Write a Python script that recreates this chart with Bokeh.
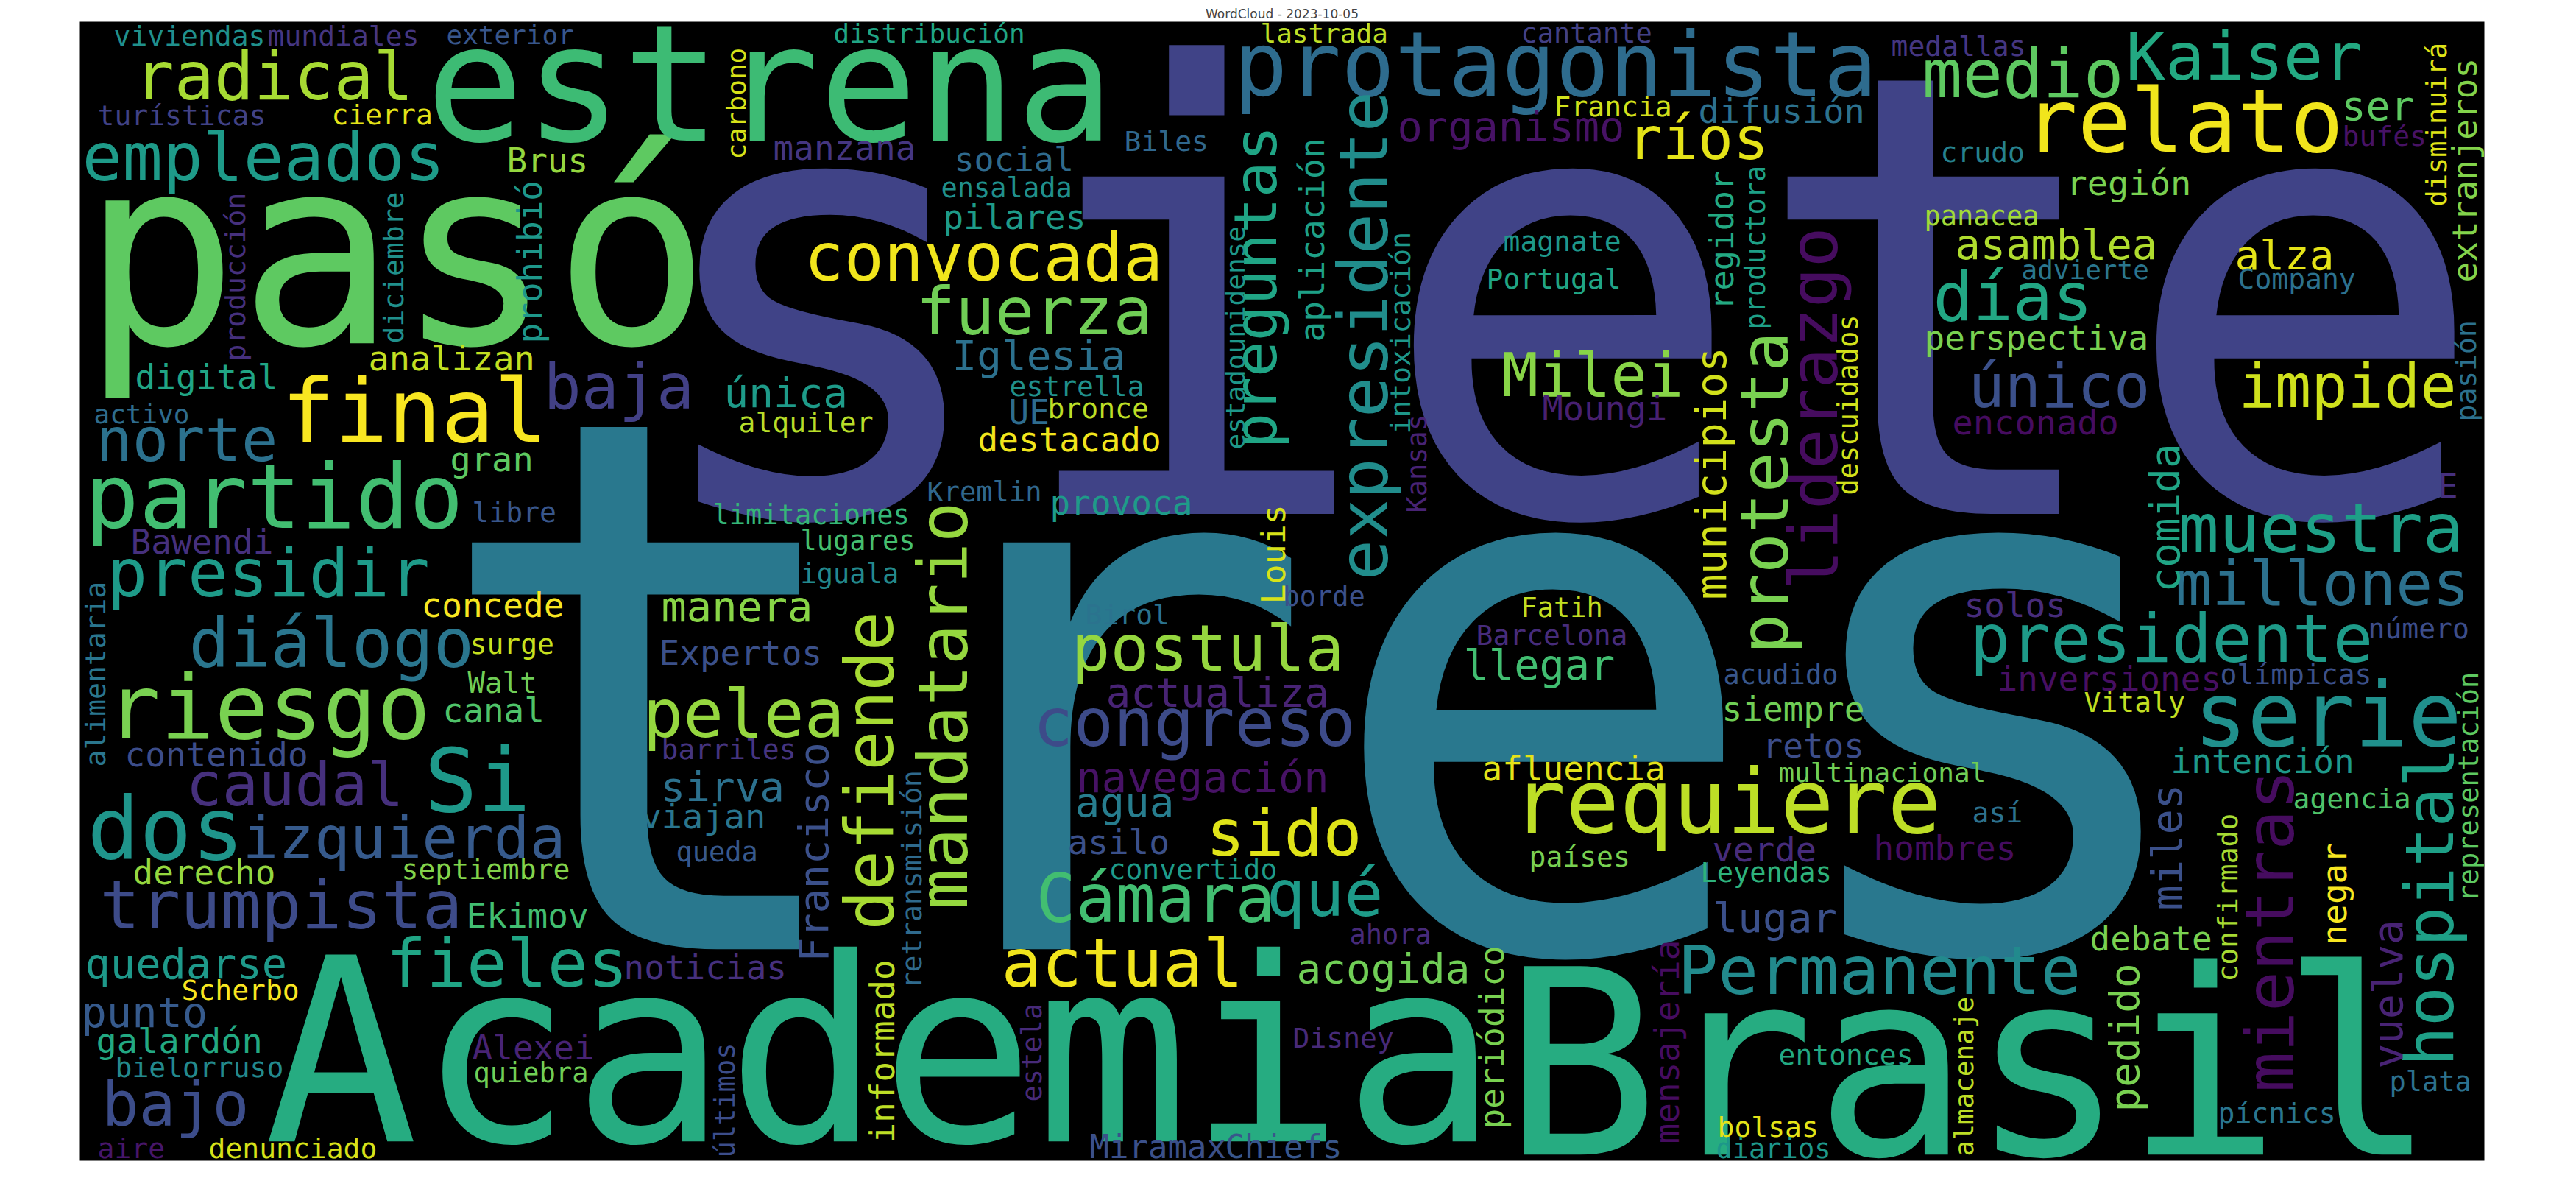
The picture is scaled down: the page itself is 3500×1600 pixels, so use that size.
import math
from bokeh.plotting import figure
from bokeh.models import ColumnDataSource, Range1d
from bokeh.palettes import Viridis256
from bokeh.core.properties import value
from bokeh.embed import file_html
from bokeh.resources import INLINE

# words laid out horizontally: font size (px), left edge, baseline, viridis index
h_words = ["siete", "tres", "Academia", "Brasil", "pasó", "estrena", "protagonista", "relato", "requiere", "partido",
           "riesgo", "serie", "final", "Si", "dos", "convocada", "fuerza", "empleados", "radical", "medio",
           "Kaiser", "días", "presidir", "diálogo", "trumpista", "fieles", "muestra", "presidente", "Permanente", "Cámara",
           "actual", "congreso", "postula", "pelea", "sido", "qué", "Milei", "norte", "baja", "único",
           "impide", "izquierda", "caudal", "bajo", "millones", "ríos", "organismo", "asamblea", "única", "Iglesia",
           "manera", "llegar", "actualiza", "navegación", "sirva", "agua", "lugar", "acogida", "quedarse", "punto",
           "alza", "ser", "Brus", "analizan", "digital", "manzana", "social", "pilares", "difusión", "región",
           "perspectiva", "gran", "Bawendi", "concede", "canal", "contenido", "UE", "destacado", "provoca", "Expertos",
           "asilo", "viajan", "noticias", "Moungi", "siempre", "retos", "afluencia", "enconado", "solos", "inversiones",
           "intención", "debate", "hombres", "verde", "derecho", "Ekimov", "galardón", "Alexei", "Miramax", "Chiefs", "E",
           "viviendas", "mundiales", "exterior", "turísticas", "cierra", "distribución", "Biles", "ensalada", "lastrada", "cantante",
           "Francia", "magnate", "Portugal", "medallas", "bufés", "crudo", "panacea", "advierte", "Company", "activo",
           "libre", "surge", "Walt", "alquiler", "bronce", "estrella", "Kremlin", "limitaciones", "lugares", "iguala",
           "Birol", "barriles", "queda", "convertido", "borde", "Fatih", "Barcelona", "acudido", "multinacional", "número",
           "olímpicas", "Vitaly", "agencia", "así", "plata", "pícnics", "países", "Leyendas", "ahora", "Disney",
           "entonces", "bolsas", "diarios", "septiembre", "Scherbo", "bielorruso", "quiebra", "aire", "denunciado"]
h_size = [838, 1010, 348, 351, 355, 222, 121, 120, 121, 122,
          122, 121, 120, 120, 118, 90, 89, 91, 90, 91,
          89, 90, 91, 92, 91, 91, 92, 91, 91, 90,
          91, 91, 88, 91, 88, 88, 82, 82, 85, 82,
          82, 81, 82, 83, 83, 80, 57, 57, 56, 56,
          57, 57, 56, 57, 56, 56, 56, 56, 57, 57,
          56, 55, 46, 47, 46, 46, 45, 46, 47, 47,
          46, 47, 46, 46, 46, 46, 46, 46, 46, 46,
          46, 47, 46, 47, 46, 46, 46, 47, 46, 46,
          46, 46, 46, 47, 46, 46, 47, 46, 44, 44, 45,
          38, 38, 36, 38, 38, 36, 38, 37, 36, 37,
          38, 38, 38, 38, 38, 38, 37, 36, 38, 36,
          38, 38, 39, 38, 38, 38, 37, 37, 37, 37,
          38, 38, 37, 38, 37, 37, 38, 37, 36, 38,
          38, 38, 38, 38, 37, 38, 38, 37, 37, 38,
          38, 38, 37, 38, 38, 38, 37, 38, 38]
h_x = [869, 584, 366, 2050, 118, 586, 1684, 2758, 2062, 123,
       152, 2988, 390, 584, 126, 1100, 1252, 119, 190, 2619,
       2896, 2634, 153, 264, 143, 532, 2967, 2684, 2287, 1415,
       1368, 1411, 1463, 881, 1646, 1728, 2048, 138, 746, 2682,
       3049, 337, 260, 146, 2963, 2218, 1906, 2664, 991, 1301,
       906, 1996, 1510, 1470, 905, 1468, 2335, 1769, 123, 118,
       3044, 3189, 696, 508, 191, 1058, 1304, 1289, 2315, 2815,
       2622, 619, 185, 580, 609, 177, 1378, 1336, 1434, 903,
       1458, 878, 855, 2103, 2347, 2402, 2021, 2660, 2676, 2721,
       2957, 2847, 2553, 2334, 188, 641, 138, 649, 1488, 1672, 3320,
       162, 371, 614, 140, 458, 1140, 1535, 1286, 1720, 2074,
       2119, 2050, 2027, 2577, 3190, 2644, 2622, 2754, 3048, 135,
       649, 646, 643, 1011, 1431, 1379, 1267, 976, 1095, 1095,
       1482, 906, 926, 1514, 1751, 2074, 2013, 2349, 2424, 3225,
       3024, 2839, 3123, 2687, 3254, 3021, 2085, 2318, 1841, 1764,
       2424, 2341, 2339, 553, 254, 164, 651, 140, 291]
h_y = [692, 1280, 1552, 1570, 468, 195, 136, 212, 1137, 723,
       1009, 1019, 606, 1108, 1172, 387, 460, 251, 141, 138,
       114, 441, 816, 912, 1267, 1346, 756, 905, 1356, 1258,
       1346, 1019, 917, 1007, 1168, 1250, 544, 632, 561, 559,
       559, 1172, 1100, 1535, 828, 222, 198, 358, 559, 508,
       850, 929, 966, 1082, 1094, 1115, 1272, 1341, 1335, 1401,
       372, 170, 241, 510, 535, 224, 239, 318, 174, 272,
       482, 647, 759, 845, 988, 1048, 583, 620, 706, 910,
       1167, 1132, 1337, 578, 986, 1036, 1067, 597, 845, 945,
       1057, 1298, 1175, 1177, 1208, 1267, 1437, 1446, 1580, 1580, 683,
       69, 69, 67, 177, 176, 65, 212, 275, 65, 65,
       165, 348, 399, 83, 205, 227, 313, 386, 399, 582,
       716, 895, 948, 594, 575, 545, 688, 719, 754, 799,
       855, 1038, 1177, 1201, 830, 845, 883, 936, 1069, 874,
       936, 974, 1105, 1124, 1489, 1532, 1184, 1205, 1289, 1430,
       1453, 1551, 1580, 1201, 1365, 1470, 1477, 1580, 1580]
h_color = [51, 102, 158, 158, 192, 175, 90, 250, 230, 178,
           204, 128, 253, 138, 133, 250, 200, 140, 222, 192,
           155, 153, 140, 100, 58, 150, 145, 140, 122, 178,
           250, 58, 215, 215, 243, 140, 210, 95, 48, 62,
           237, 72, 35, 60, 95, 245, 12, 225, 140, 95,
           210, 178, 25, 12, 95, 108, 62, 200, 138, 72,
           245, 192, 215, 232, 150, 40, 88, 140, 95, 204,
           204, 192, 35, 253, 185, 60, 90, 250, 140, 62,
           62, 100, 35, 22, 200, 60, 245, 8, 32, 10,
           138, 204, 8, 32, 215, 178, 155, 25, 62, 68, 35,
           128, 40, 68, 50, 245, 150, 85, 128, 230, 48,
           238, 135, 150, 40, 12, 112, 220, 100, 95, 90,
           68, 234, 200, 228, 230, 128, 85, 170, 180, 120,
           97, 38, 70, 140, 62, 232, 32, 68, 200, 60,
           62, 232, 185, 95, 95, 100, 204, 165, 30, 30,
           155, 245, 135, 208, 253, 120, 200, 15, 240]

# words rotated 90 degrees: font size, baseline x, start (bottom) y, viridis index
v_words = ["producción", "diciembre", "prohibió", "carbono", "preguntas", "estadounidense", "expresidente", "aplicación", "intoxicación", "regidor",
           "productora", "liderazgo", "municipios", "protesta", "descuidados", "disminuirá", "extranjeros", "pasión", "representación", "alimentaria",
           "mandatario", "defiende", "Francisco", "retransmisión", "informado", "últimos", "estela", "Kansas", "Louis", "comida",
           "hospital", "mientras", "pedido", "confirmado", "miles", "negar", "vuelva", "almacenaje", "periódico", "mensajería"]
v_size = [38, 38, 46, 36, 81, 36, 92, 46, 38, 45,
          37, 91, 57, 91, 37, 37, 46, 38, 37, 38,
          92, 90, 55, 38, 46, 37, 37, 37, 45, 56,
          90, 91, 56, 38, 57, 46, 56, 36, 46, 46]
v_x = [340, 555, 743, 1020, 1740, 1698, 1891, 1806, 1923, 2362,
       2405, 2502, 2351, 2435, 2531, 3331, 3372, 3371, 3374, 150,
       1320, 1219, 1132, 1259, 1222, 1005, 1422, 1945, 1753, 2967,
       3339, 3122, 2912, 3047, 2970, 3195, 3270, 2688, 2050, 2288]
v_y = [498, 474, 474, 224, 617, 618, 796, 472, 597, 429,
       455, 809, 822, 896, 680, 288, 391, 580, 1232, 1049,
       1243, 1271, 1314, 1351, 1560, 1580, 1504, 704, 828, 812,
       1456, 1491, 1518, 1341, 1244, 1291, 1459, 1578, 1541, 1561]
v_color = [35, 128, 135, 240, 150, 135, 125, 145, 135, 155,
           145, 8, 238, 204, 238, 243, 208, 95, 192, 100,
           215, 222, 62, 88, 230, 60, 30, 25, 240, 150,
           145, 8, 204, 222, 62, 253, 25, 230, 204, 8]

# the rendered baseline sits this fraction of the font size below the anchor
BASE_SHIFT = 0.33


def make_source(words, sizes, xs, ys, colors, vertical):
    if vertical:
        xs = [x - BASE_SHIFT * s for x, s in zip(xs, sizes)]
    else:
        ys = [y - BASE_SHIFT * s for y, s in zip(ys, sizes)]
    return ColumnDataSource({
        "x": xs,
        "y": ys,
        "word": words,
        "size": ["%dpx" % s for s in sizes],
        "color": [Viridis256[c] for c in colors],
        "angle": [math.pi / 2 if vertical else 0.0] * len(words),
    })


p = figure(
    width=3484, height=1584,
    x_range=Range1d(116, 3383), y_range=Range1d(1584, 37),
    x_axis_location=None, y_axis_location=None,
    output_backend="svg", toolbar_location=None,
    min_border_left=108, min_border_right=109, min_border_top=29, min_border_bottom=8,
    background_fill_color="black", border_fill_color="white",
    outline_line_color=None,
    title="WordCloud - 2023-10-05",
)
p.grid.visible = False
p.title.align = "center"
p.title.text_font = "DejaVu Sans"
p.title.text_font_style = "normal"
p.title.text_font_size = "17px"
p.title.standoff = 2

for src in (make_source(h_words, h_size, h_x, h_y, h_color, False),
            make_source(v_words, v_size, v_x, v_y, v_color, True)):
    p.text("x", "y", text="word", source=src, angle="angle",
           text_font=value("DejaVu Sans Mono"), text_font_size="size",
           text_color="color", text_align="left", text_baseline="alphabetic")

open("out.html", "w").write(file_html(p, INLINE))
